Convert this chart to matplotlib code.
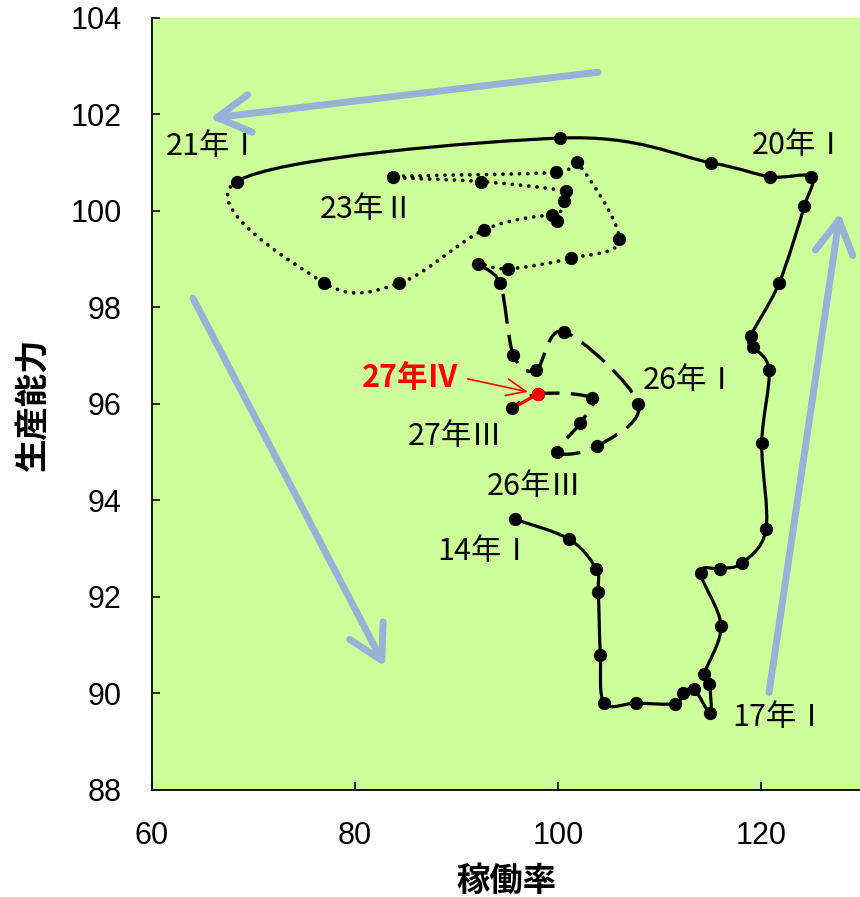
import numpy as np
import matplotlib
matplotlib.use('Agg')
import matplotlib.pyplot as plt
from matplotlib.path import Path
from matplotlib.patches import PathPatch

# quarterly values 14年I ... 27年IV (56 quarters)
# x = 稼働率, y = 生産能力
rate = [95.76, 101.08, 103.74, 103.97, 104.17, 104.56, 107.66, 111.50,
        112.35, 113.40, 114.98, 114.91, 114.41, 116.06, 114.06, 115.96,
        118.10, 120.49, 120.07, 120.79, 119.18, 118.98, 121.77, 124.27,
        124.93, 120.89, 115.04, 100.20, 68.34,
        76.95, 84.36, 92.74, 99.38, 99.87, 100.59, 100.79, 92.46,
        83.77, 99.80, 101.84, 106.04, 101.25, 95.04, 92.12,
        94.29, 95.60, 97.83, 100.59, 107.91, 103.81, 99.93, 102.17,
        103.32, 98.06, 95.50,
        98.06]
capacity = [93.61, 93.20, 92.59, 92.10, 90.80, 89.80, 89.80, 89.79,
            90.00, 90.09, 89.60, 90.20, 90.40, 91.40, 92.50, 92.59,
            92.70, 93.40, 95.19, 96.70, 97.19, 97.41, 98.50, 100.10,
            100.71, 100.71, 101.00, 101.51, 100.61,
            98.51, 98.50, 99.61, 99.92, 99.79, 100.21, 100.41, 100.61,
            100.71, 100.80, 101.01, 99.41, 99.02, 98.80, 98.90,
            98.50, 97.02, 96.70, 97.50, 96.00, 95.12, 95.00, 95.60,
            96.12, 96.21, 95.91,
            96.21]

# point labels
label_text = ['14年Ⅰ', '17年Ⅰ', '20年Ⅰ', '21年Ⅰ', '23年Ⅱ', '26年Ⅰ', '26年Ⅲ', '27年Ⅲ']
label_pos = [(92.8, 92.95), (121.8, 89.5), (123.8, 101.35), (66.0, 101.33),
             (81.2, 100.02), (113.0, 96.48), (97.7, 94.28), (89.9, 95.32)]

green = '#CCFF99'
blue = '#95B3D7'
cjk = ['Noto Sans CJK JP', 'DejaVu Sans']

fig = plt.figure(figsize=(8.6, 8.97), dpi=100)
ax = fig.add_axes([0.1767, 0.1193, 0.8233, 0.8607])
ax.set_facecolor(green)
ax.set_xlim(60, 129.75)
ax.set_ylim(88, 104)

pts = np.column_stack([rate, capacity])
n = len(pts)


# smoothed segment (catmull-rom bezier, like excel smoothing)
def bez(i):
    p0 = pts[i - 1] if i > 0 else pts[i]
    p1 = pts[i]
    p2 = pts[i + 1]
    p3 = pts[i + 2] if i + 2 < n else pts[i + 1]
    return p1 + (p2 - p0) / 6, p2 - (p3 - p1) / 6, p2


def draw_part(start, end, **kw):
    verts = [pts[start]]
    codes = [Path.MOVETO]
    for i in range(start, end):
        c1, c2, p2 = bez(i)
        verts += [c1, c2, p2]
        codes += [Path.CURVE4] * 3
    patch = PathPatch(Path(verts, codes), fill=False, zorder=3, **kw)
    ax.add_patch(patch)


draw_part(0, 28, color='black', lw=2.3, capstyle='round', joinstyle='round')
draw_part(28, 43, color='black', lw=2.7, linestyle=(0, (0.01, 2.2)), capstyle='round')
draw_part(43, 54, color='black', lw=2.4, linestyle=(0, (9, 3.4)), capstyle='butt')
draw_part(54, 55, color='red', lw=2.4)

ax.plot(rate[:55], capacity[:55], 'o', color='black', ms=8.5, zorder=4)
ax.plot(rate[55:], capacity[55:], 'o', color='red', ms=8.5, zorder=5)

# big blue trend arrows
arrows = [((103.94, 102.875), (65.71, 101.92)),
          ((64.04, 98.19), (82.96, 90.56)),
          ((120.79, 90.02), (127.78, 99.96))]
for tail, tip in arrows:
    ax.annotate('', xy=tip, xytext=tail,
                arrowprops=dict(arrowstyle='->,head_length=0.6,head_width=0.34',
                                color=blue, lw=5, mutation_scale=40,
                                capstyle='round', joinstyle='round',
                                shrinkA=0, shrinkB=0), zorder=2)

for t, (lx, ly) in zip(label_text, label_pos):
    ax.text(lx, ly, t, fontsize=22, ha='center', va='center', family=cjk, zorder=6)

ax.text(85.5, 96.54, '27年Ⅳ', fontsize=22, fontweight='bold', color='red',
        ha='center', va='center', family=cjk, zorder=6)
ax.annotate('', xy=(97.04, 96.25), xytext=(91.1, 96.52),
            arrowprops=dict(arrowstyle='->,head_length=0.7,head_width=0.3',
                            color='red', lw=1.2, mutation_scale=20,
                            shrinkA=0, shrinkB=0), zorder=6)

ax.set_xticks([60, 80, 100, 120])
ax.set_yticks(np.arange(88, 105, 2))
ax.tick_params(direction='in', length=6, width=1.2, labelsize=22, pad=22)
for lab in ax.get_xticklabels() + ax.get_yticklabels():
    lab.set_family('Liberation Sans')
ax.spines['top'].set_visible(False)
ax.spines['right'].set_visible(False)
ax.spines['left'].set_linewidth(1.3)
ax.spines['bottom'].set_linewidth(1.3)

ax.set_xlabel('稼働率', fontsize=24, fontweight='bold', family='Noto Sans CJK JP', labelpad=10)
ax.set_ylabel('生産能力', fontsize=24, fontweight='bold', family='Noto Sans CJK JP', labelpad=14)

fig.savefig('out.png', dpi=100, facecolor='white')
